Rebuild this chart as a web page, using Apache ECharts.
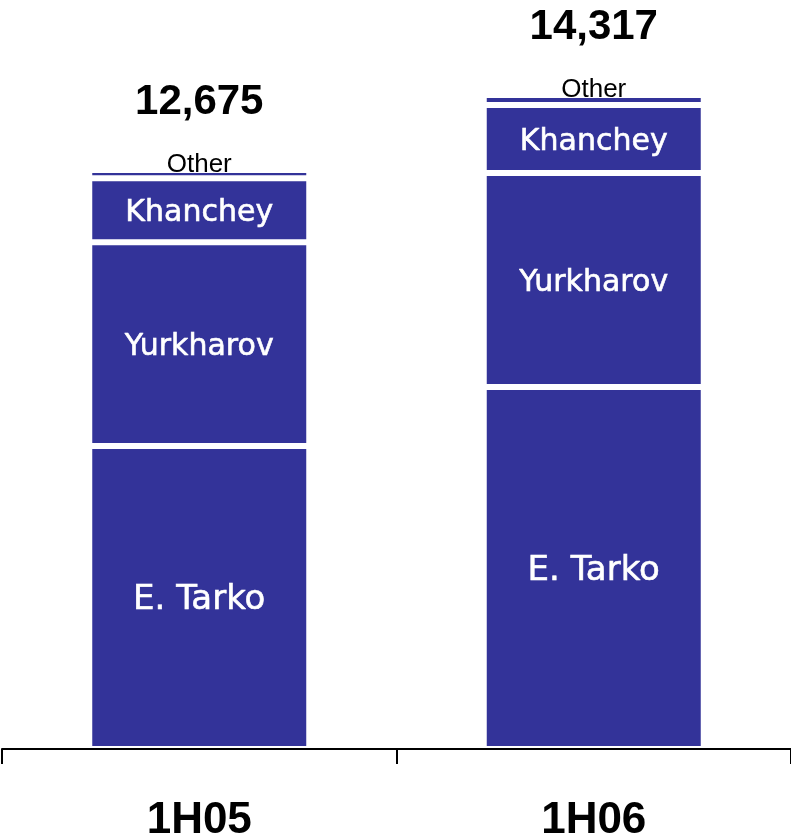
<!DOCTYPE html>
<html>
<head>
<meta charset="utf-8">
<script src="https://cdn.jsdelivr.net/npm/echarts@6/dist/echarts.min.js"></script>
<style>
html,body{margin:0;padding:0;background:#fff;}
#chart{width:791px;height:840px;}
</style>
</head>
<body>
<div id="chart"></div>
<script>
const categories = ['1H05', '1H06'];
const eTarko = [6630, 7925];
const yurkharov = [4460, 4680];
const khanchey = [1400, 1490];
const other = [185, 222];
const totals = ['12,675', '14,317'];

const BLUE = '#333399';
const chart = echarts.init(document.getElementById('chart'));

function seg(name, data, fontSize) {
  return {
    name: name,
    type: 'bar',
    stack: 'total',
    data: data,
    barWidth: 220,
    itemStyle: { color: BLUE, borderColor: '#ffffff', borderWidth: 3 },
    label: {
      show: true,
      position: 'inside',
      offset: [0, 3],
      formatter: name,
      color: '#ffffff',
      textBorderColor: '#ffffff',
      textBorderWidth: 0.6,
      fontFamily: 'DejaVu Sans',
      fontSize: fontSize
    },
    emphasis: { disabled: true }
  };
}

chart.setOption({
  animation: false,
  backgroundColor: '#ffffff',
  grid: { left: 2, right: 0, top: 18, bottom: 91, outerBoundsMode: 'none', containLabel: false },
  xAxis: {
    type: 'category',
    data: categories,
    z: 10,
    axisLine: { lineStyle: { color: '#000000', width: 2 } },
    axisTick: { show: true, length: 15, lineStyle: { color: '#000000', width: 2 } },
    axisLabel: {
      margin: 50,
      color: '#000000',
      fontFamily: 'Liberation Sans',
      fontWeight: 'bold',
      fontSize: 44
    }
  },
  yAxis: {
    type: 'value',
    min: 0,
    max: 16000,
    show: false,
    splitLine: { show: false }
  },
  series: [
    seg('E. Tarko', eTarko, 34),
    seg('Yurkharov', yurkharov, 30),
    seg('Khanchey', khanchey, 30),
    {
      name: 'Other',
      type: 'bar',
      stack: 'total',
      data: other,
      barWidth: 220,
      itemStyle: { color: BLUE, borderColor: '#ffffff', borderWidth: 3 },
      label: {
        show: true,
        position: 'top',
        distance: -6,
        formatter: function (p) { return '{t|' + totals[p.dataIndex] + '}\n{o|Other}'; },
        rich: {
          t: { fontFamily: 'Liberation Sans', fontWeight: 'bold', fontSize: 42, lineHeight: 102, color: '#000000' },
          o: { fontFamily: 'Liberation Sans', fontSize: 26, lineHeight: 22, color: '#000000' }
        }
      },
      emphasis: { disabled: true }
    }
  ]
});
</script>
</body>
</html>
